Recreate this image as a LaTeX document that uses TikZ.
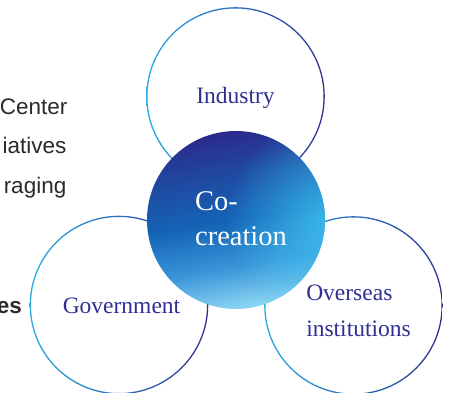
\documentclass[tikz,border=0pt]{standalone}
\usepackage{fontspec}
\setmainfont{Liberation Serif}
\setsansfont{Liberation Sans}
\usetikzlibrary{positioning,fadings}
\definecolor{navy}{HTML}{2E3192}
\definecolor{skyline}{HTML}{29ABE2}
\definecolor{deepblue}{HTML}{2B2A8C}
\definecolor{upperblue}{HTML}{1E4CA3}
\definecolor{midblue}{HTML}{1464B6}
\definecolor{lowerblue}{HTML}{3A95D8}
\definecolor{paleblue}{HTML}{8ED7F4}
\definecolor{brightcyan}{HTML}{3EC6F2}
\definecolor{bodytext}{HTML}{2A2A2A}
\tikzfading[name=glow,inner color=transparent!0,outer color=transparent!100]
\pgfdeclareverticalshading{coreshade}{100bp}{color(0bp)=(paleblue); color(25bp)=(paleblue);
  color(37bp)=(lowerblue); color(50bp)=(midblue); color(62bp)=(upperblue);
  color(75bp)=(deepblue); color(100bp)=(deepblue)}
\tikzset{
partner/.style={circle,minimum size=178pt,inner sep=0pt},
core/.style={circle,minimum size=178pt,inner sep=0pt},
partnerlabel/.style={font=\fontsize{23.5}{36}\selectfont,text=navy,align=left,inner sep=0pt},
corelabel/.style={font=\fontsize{28.5}{35}\selectfont,text=white,align=left,inner sep=0pt},
sidetext/.style={font=\sffamily\fontsize{22.5}{27}\selectfont,text=bodytext,inner sep=0pt,anchor=base east},
ringshade/.style={left color=skyline,right color=navy,even odd rule}
}

\begin{document}
\begin{tikzpicture}[x=1pt,y=1pt]
\useasboundingbox (0,0) rectangle (459,392);
% cut-off page text on the left
\node[sidetext] (txtA) at (67.5,277) {Center};
\node[sidetext] (txtB) at (66.5,238) {iatives};
\node[sidetext] (txtC) at (66.5,199) {raging};
\node[sidetext,font=\sffamily\bfseries\fontsize{22.5}{27}\selectfont] (txtD) at (22,79) {es};
% partner circles
\node[partner] (ind) at (235.5,295.5) {};
\node[partner] (gov) at (119,87) {};
\node[partner] (ovs) at (353.5,86.5) {};
\foreach \c in {ind,gov,ovs}
  \shade[ringshade] (\c.center) circle (89.3pt) circle (88pt);
\node[partnerlabel] (indtext) at ([yshift=-1pt]ind.center) {Industry};
\node[partnerlabel] (govtext) at ([xshift=2.5pt,yshift=-1pt]gov.center) {Government};
\node[partnerlabel] (ovstext) at ([xshift=5pt,yshift=-5pt]ovs.center) {Overseas\\institutions};
% centre
\node[core] (cocr) at (236,172) {};
\begin{scope}
\clip (cocr.center) circle (89pt);
\shade[shading=coreshade,shading angle=10] (cocr.center) circle (89pt);
\fill[brightcyan,opacity=0.85,path fading=glow] ([xshift=95pt,yshift=0pt]cocr.center) circle (105pt);
\end{scope}
\node[corelabel] (cocrtext) at ([xshift=5pt,yshift=1pt]cocr.center) {Co-\\creation};
\end{tikzpicture}
\end{document}
